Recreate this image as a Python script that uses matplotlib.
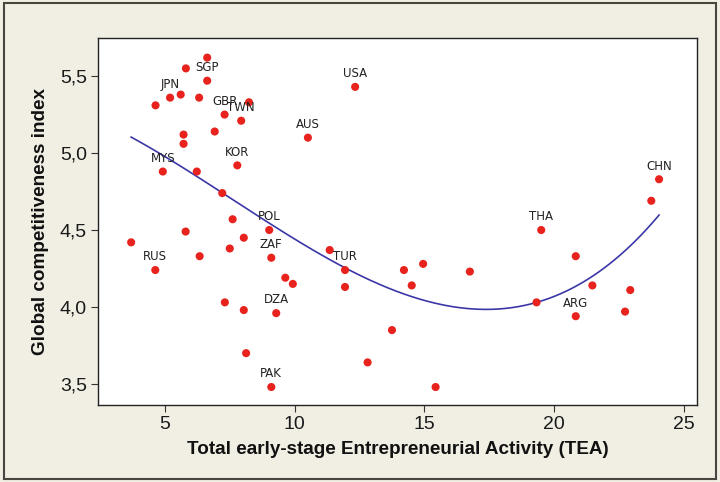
import numpy as np
import matplotlib.pyplot as plt
from matplotlib.patches import Rectangle
from matplotlib.ticker import FuncFormatter

# GEM data: TEA (x) vs Global Competitiveness Index (y)
tea = [6.63, 5.81, 6.63, 5.20, 5.61, 4.64, 6.32, 8.24, 7.30, 7.94,
       6.92, 10.51, 5.72, 5.72, 7.79, 4.92, 6.23, 7.21, 7.61, 9.02,
       5.80, 3.70, 8.04, 7.50, 11.35, 9.10, 6.34, 4.63, 9.64, 9.93,
       7.31, 8.04, 9.29, 8.13, 9.10, 12.33, 11.94, 11.94, 14.21, 14.95,
       16.75, 14.51, 13.75, 12.81, 15.43, 24.04, 23.74, 19.50, 20.83, 21.47,
       19.32, 22.93, 20.83, 22.73]
gci = [5.62, 5.55, 5.47, 5.36, 5.38, 5.31, 5.36, 5.33, 5.25, 5.21,
       5.14, 5.10, 5.12, 5.06, 4.92, 4.88, 4.88, 4.74, 4.57, 4.50,
       4.49, 4.42, 4.45, 4.38, 4.37, 4.32, 4.33, 4.24, 4.19, 4.15,
       4.03, 3.98, 3.96, 3.70, 3.48, 5.43, 4.24, 4.13, 4.24, 4.28,
       4.23, 4.14, 3.85, 3.64, 3.48, 4.83, 4.69, 4.50, 4.33, 4.14,
       4.03, 4.11, 3.94, 3.97]
names = ["", "", "SGP", "JPN", "", "", "", "", "GBR", "TWN",
         "", "AUS", "", "", "KOR", "MYS", "", "", "", "POL",
         "", "", "", "", "", "ZAF", "", "RUS", "", "",
         "", "", "DZA", "", "PAK", "USA", "TUR", "", "", "",
         "", "", "", "", "", "CHN", "", "THA", "", "",
         "", "", "ARG", ""]

x = np.array(tea)
y = np.array(gci)

fig = plt.figure(figsize=(7.2, 4.82), dpi=100, facecolor="#f1eee4")
fig.patches.append(Rectangle((0.006, 0.006), 0.988, 0.988, transform=fig.transFigure,
                             fill=False, edgecolor="#4a4540", linewidth=1.5))
ax = fig.add_axes([0.136, 0.160, 0.832, 0.761])

# fitted curve
coef = np.polyfit(x, y, 3)
xs = np.linspace(x.min(), x.max(), 200)
ax.plot(xs, np.polyval(coef, xs), color="#3b37a6", linewidth=1.2, zorder=2)

ax.scatter(x, y, s=34, color="#e8221c", edgecolors="none", zorder=3)
for xi, yi, nm in zip(x, y, names):
    if nm:
        ax.annotate(nm, (xi, yi), xytext=(0, 9.5), textcoords="offset points",
                    ha="center", va="center", fontsize=8.5,
                    family="DejaVu Sans", color="#222222")

ax.set_xlim(2.42, 25.5)
ax.set_ylim(3.364, 5.747)
ax.set_xticks([5, 10, 15, 20, 25])
ax.set_yticks([3.5, 4.0, 4.5, 5.0, 5.5])
ax.yaxis.set_major_formatter(FuncFormatter(lambda v, p: f"{v:.1f}".replace(".", ",")))

tick_font = ["Liberation Sans Narrow", "Liberation Sans"]
for lab in ax.get_xticklabels() + ax.get_yticklabels():
    lab.set_family(tick_font)
    lab.set_fontsize(14)
    lab.set_color("#1a1a1a")
ax.tick_params(direction="out", length=5, width=0.8, color="#333333", pad=3)

ax.set_xlabel("Total early-stage Entrepreneurial Activity (TEA)", family=tick_font,
              fontsize=13.6, fontweight="bold", color="#111111", labelpad=6)
ax.set_ylabel("Global competitiveness index", family=tick_font,
              fontsize=13.6, fontweight="bold", color="#111111", labelpad=8)
for sp in ax.spines.values():
    sp.set_linewidth(1.0)
    sp.set_color("#222222")

fig.savefig("out.png", dpi=100, facecolor=fig.get_facecolor())
